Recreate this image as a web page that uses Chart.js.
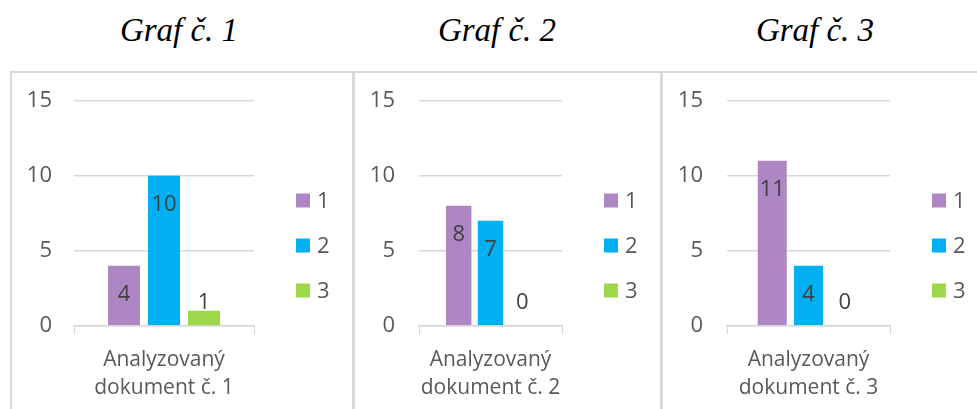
<!DOCTYPE html>
<html>
<head>
<meta charset="utf-8">
<script src="https://cdn.jsdelivr.net/npm/chart.js@4/dist/chart.umd.min.js"></script>
<style>
  html, body { margin: 0; padding: 0; background: #ffffff; }
  body { width: 977px; height: 409px; position: relative; overflow: hidden; }
  .title { position: absolute; top: 14px; width: 220px; text-align: center;
           font-family: "Liberation Serif", "Times New Roman", serif; font-style: italic;
           font-size: 33px; line-height: 33px; color: #000; white-space: nowrap; }
  .panel { position: absolute; top: 71px; height: 400px; box-sizing: border-box;
           border: 2px solid #dadada; border-bottom: none; }
  canvas { position: absolute; }
</style>
</head>
<body>
<div class="panel" style="left:10px;width:344px;"></div>
<div class="panel" style="left:353px;width:309px;"></div>
<div class="panel" style="left:661px;width:330px;"></div>
<canvas id="c0" width="340" height="336" style="left:12px;top:73px;"></canvas>
<canvas id="c1" width="305" height="336" style="left:355px;top:73px;"></canvas>
<canvas id="c2" width="314" height="336" style="left:663px;top:73px;"></canvas>
<script>
// ---- data ----
const chartTitles = ["Graf č. 1", "Graf č. 2", "Graf č. 3"];
const categories = [
  ["Analyzovaný", "dokument č. 1"],
  ["Analyzovaný", "dokument č. 2"],
  ["Analyzovaný", "dokument č. 3"]
];
const seriesNames = ["1", "2", "3"];
const series1 = [4, 8, 11];
const series2 = [10, 7, 4];
const series3 = [1, 0, 0];
const yTicks = [0, 5, 10, 15];

// ---- styling ----
const colors = ["#ae86c4", "#00b0f0", "#9dd84b"];
const titleCenters = [179, 497, 815];
const panelLayout = [
  { yWidth: 62, yPad: 22, right: 98 },
  { yWidth: 64, yPad: 24, right: 98 },
  { yWidth: 64, yPad: 24, right: 87 }
];
const AREA_TOP = 27.7;     // target chart-area top inside canvas
const AREA_BOTTOM = 252.7; // target chart-area bottom inside canvas
const FONT = "'Open Sans', 'DejaVu Sans', sans-serif";

chartTitles.forEach((t, i) => {
  const d = document.createElement('div');
  d.className = 'title';
  d.textContent = t;
  d.style.left = (titleCenters[i] - 110) + 'px';
  document.body.appendChild(d);
});

const labelPlugin = {
  id: 'barLabels',
  afterDatasetsDraw(chart) {
    const ctx = chart.ctx;
    const zero = chart.scales.y.getPixelForValue(0);
    ctx.save();
    ctx.font = "22px " + FONT;
    ctx.fillStyle = "#404040";
    ctx.textAlign = "center";
    ctx.textBaseline = "middle";
    chart.data.datasets.forEach((ds, di) => {
      const meta = chart.getDatasetMeta(di);
      meta.data.forEach((bar, idx) => {
        const v = ds.data[idx];
        const y = Math.min(bar.y + 29, zero - 23);
        ctx.fillText(String(v), bar.x, y);
      });
    });
    ctx.restore();
  }
};

const legendPlugin = {
  id: 'sideLegend',
  afterDraw(chart) {
    const ctx = chart.ctx;
    const x0 = chart.chartArea.right + 42;
    ctx.save();
    ctx.font = "22px " + FONT;
    ctx.textBaseline = "middle";
    ctx.textAlign = "left";
    chart.data.datasets.forEach((ds, i) => {
      const cy = 127.5 + 45 * i;
      ctx.fillStyle = ds.backgroundColor;
      ctx.fillRect(x0, cy - 7, 14, 14);
      ctx.fillStyle = "#595959";
      ctx.fillText(ds.label, x0 + 21, cy + 1);
    });
    ctx.restore();
  }
};

const allSeries = [series1, series2, series3];

for (let i = 0; i < 3; i++) {
  const L = panelLayout[i];
  const canvas = document.getElementById('c' + i);
  const state = { xHeight: canvas.height - AREA_BOTTOM, top: AREA_TOP };
  const chart = new Chart(canvas, {
    type: 'bar',
    data: {
      labels: [categories[i]],
      datasets: seriesNames.map((n, s) => ({
        label: n,
        data: [allSeries[s][i]],
        backgroundColor: colors[s],
        borderWidth: 0,
        categoryPercentage: 0.667,
        barPercentage: 0.8
      }))
    },
    options: {
      responsive: false,
      animation: false,
      devicePixelRatio: 1,
      layout: { padding: { left: 0, right: L.right, top: AREA_TOP, bottom: 0 } },
      plugins: { legend: { display: false }, tooltip: { enabled: false }, title: { display: false } },
      scales: {
        x: {
          grid: { display: true, drawOnChartArea: false, drawTicks: true, tickLength: 8, color: '#d4d4d4', offset: true },
          border: { display: true, color: '#d4d4d4', width: 1.3 },
          ticks: { color: '#595959', padding: 12.3, font: { family: FONT, size: 21, lineHeight: 28 / 21 }, maxRotation: 0 },
          afterFit(scale) { scale.height = state.xHeight; }
        },
        y: {
          min: 0, max: 15,
          afterBuildTicks(scale) { scale.ticks = yTicks.map(v => ({ value: v })); },
          grid: { color: '#d9d9d9', drawTicks: false, lineWidth: 1.4 },
          border: { display: false },
          ticks: { color: '#595959', padding: L.yPad, font: { family: FONT, size: 22 } },
          afterFit(scale) {
            scale.width = L.yWidth;
            scale.paddingTop = 0;
            scale.paddingBottom = 0;
          }
        }
      }
    },
    plugins: [labelPlugin, legendPlugin]
  });
  // nudge layout so the plot area lands exactly where the reference has it
  for (let k = 0; k < 4; k++) {
    const dt = chart.chartArea.top - AREA_TOP;
    const db = chart.chartArea.bottom - AREA_BOTTOM;
    if (Math.abs(dt) < 0.05 && Math.abs(db) < 0.05) break;
    state.top -= dt;
    state.xHeight += db;
    chart.config.options.layout.padding = { left: 0, right: L.right, top: state.top, bottom: 0 };
    chart.update('none');
  }
}
</script>
</body>
</html>
